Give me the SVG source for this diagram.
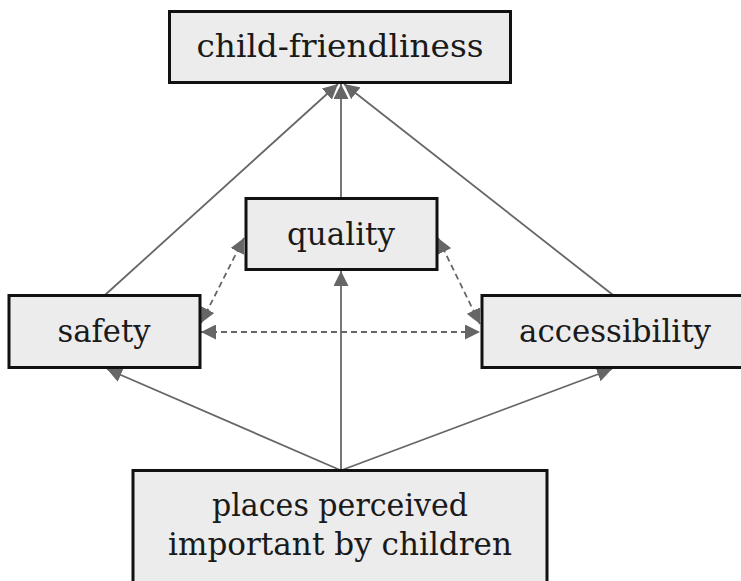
<svg xmlns="http://www.w3.org/2000/svg" width="741" height="581" viewBox="0 0 741 581">
<style>
.box{fill:#ececec;stroke:#111;stroke-width:3}
.lbl{font-family:"DejaVu Serif","Liberation Serif",serif;font-size:32px;fill:#1a1a1a;text-anchor:middle}
.e{stroke:#666;stroke-width:1.8;fill:none}
.d{stroke-dasharray:6 4}
</style>
<defs>
<marker id="ahb" viewBox="0 0 10 10" refX="10" refY="5" markerWidth="15" markerHeight="15" markerUnits="userSpaceOnUse" orient="auto-start-reverse">
<path d="M0,0 L10,5 L0,10 z" fill="#666"/>
</marker>
</defs>
<rect width="741" height="581" fill="#fff"/>
<g id="edges">
<line class="e" x1="105" y1="295" x2="338" y2="84" marker-end="url(#ahb)"/>
<line class="e" x1="341" y1="198" x2="341" y2="84" marker-end="url(#ahb)"/>
<line class="e" x1="613" y1="295" x2="344" y2="84" marker-end="url(#ahb)"/>
<line class="e" x1="340" y1="470" x2="107" y2="369" marker-end="url(#ahb)"/>
<line class="e" x1="341" y1="470" x2="341" y2="271" marker-end="url(#ahb)"/>
<line class="e" x1="342" y1="470" x2="612" y2="369" marker-end="url(#ahb)"/>
<line class="e d" x1="201" y1="332" x2="480" y2="332" marker-start="url(#ahb)" marker-end="url(#ahb)"/>
<line class="e d" x1="201" y1="323" x2="244" y2="238" marker-start="url(#ahb)" marker-end="url(#ahb)"/>
<line class="e d" x1="438" y1="238" x2="480" y2="324" marker-start="url(#ahb)" marker-end="url(#ahb)"/>
</g>
<g id="child-friendliness">
<rect class="box" x="169.5" y="11.5" width="341" height="71"/>
<text class="lbl" x="340" y="57" textLength="287" lengthAdjust="spacingAndGlyphs">child-friendliness</text>
</g>
<g id="quality">
<rect class="box" x="246" y="198.5" width="191" height="71"/>
<text class="lbl" x="341" y="245" textLength="108" lengthAdjust="spacingAndGlyphs">quality</text>
</g>
<g id="safety">
<rect class="box" x="9" y="295.5" width="191" height="72"/>
<text class="lbl" x="104" y="342" textLength="93" lengthAdjust="spacingAndGlyphs">safety</text>
</g>
<g id="accessibility">
<rect class="box" x="482" y="295.5" width="262" height="72"/>
<text class="lbl" x="615" y="342" textLength="192" lengthAdjust="spacingAndGlyphs">accessibility</text>
</g>
<g id="places">
<rect class="box" x="133" y="470.5" width="414" height="115"/>
<text class="lbl" x="340" y="516" textLength="256" lengthAdjust="spacingAndGlyphs">places perceived</text>
<text class="lbl" x="340" y="555" textLength="344" lengthAdjust="spacingAndGlyphs">important by children</text>
</g>
</svg>
